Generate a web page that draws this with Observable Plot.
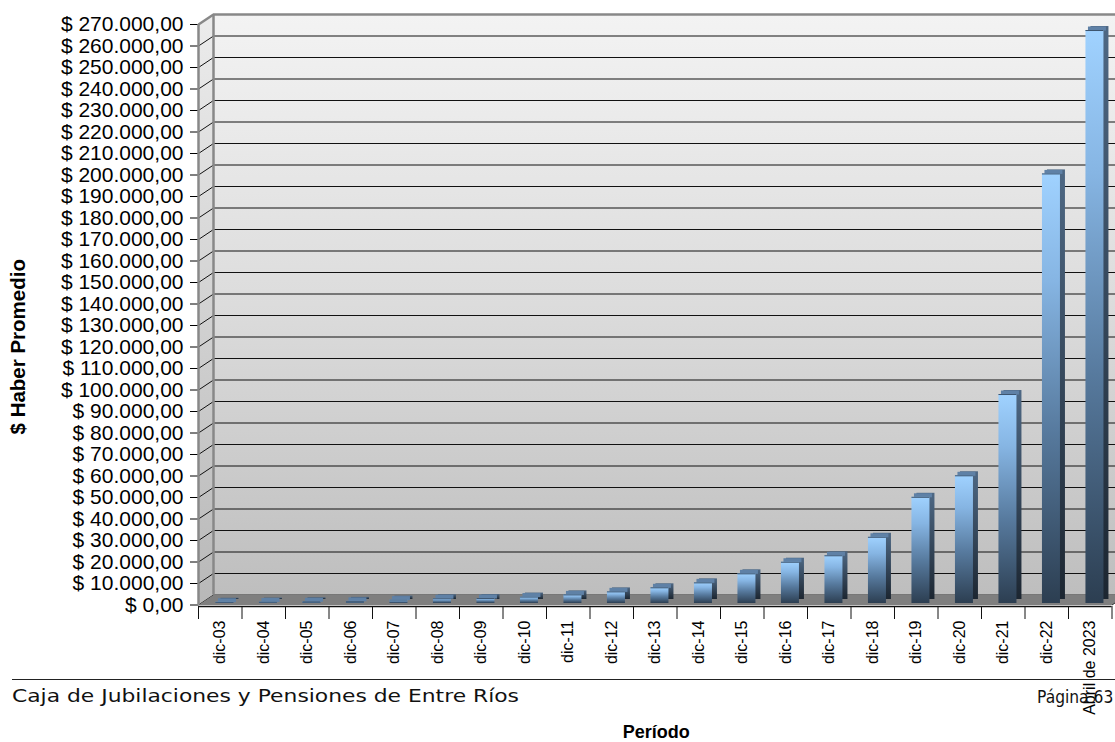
<!DOCTYPE html>
<html>
<head>
<meta charset="utf-8">
<script src="https://cdn.jsdelivr.net/npm/d3@7"></script>
<script src="https://cdn.jsdelivr.net/npm/@observablehq/plot@0.6"></script>
<style>
  html, body { margin: 0; padding: 0; background: #fff; overflow: hidden; width: 1115px; height: 742px; }
  #wrap { position: relative; width: 1115px; height: 742px; overflow: hidden; }
  #footline { position: absolute; left: 12px; top: 679px; width: 1103px; height: 0; border-top: 1px solid #222; }
  #foot1 { position: absolute; left: 12px; top: 685px; font-family: "DejaVu Sans", Verdana, sans-serif; font-size: 18.5px; color: #111; white-space: nowrap; transform: scaleX(1.18); transform-origin: left top; }
  #foot2 { position: absolute; left: 1037px; top: 687px; font-family: "DejaVu Sans", Verdana, sans-serif; font-size: 15.5px; color: #111; white-space: nowrap; transform: scaleY(1.15); transform-origin: left top; }
</style>
</head>
<body>
<div id="wrap">
  <div id="chart"></div>
  <div id="footline"></div>
  <div id="foot1">Caja de Jubilaciones y Pensiones de Entre Ríos</div>
  <div id="foot2">Página 63</div>
</div>
<script>
// ---- data ----
const periods = ["dic-03","dic-04","dic-05","dic-06","dic-07","dic-08","dic-09","dic-10","dic-11","dic-12","dic-13","dic-14","dic-15","dic-16","dic-17","dic-18","dic-19","dic-20","dic-21","dic-22","Abril de 2023"];
const haberPromedio = [600, 700, 800, 1000, 1600, 2200, 2300, 3000, 4000, 5400, 7300, 9600, 13800, 19200, 22200, 30800, 49400, 59400, 97200, 199800, 266500];
const yTicks = d3.range(0, 270001, 10000);
const yTitle = "$ Haber Promedio";
const xTitle = "Período";

// ---- layout constants ----
const W = 1115, H = 742;
const mL = 198, mR = 3.5, mT = 24, mB = 137.5;
const yMax = 270000;
const pxPerX = (W - mL - mR) / periods.length;
const pxPerY = (H - mT - mB) / yMax;
const DEPTH_X = 15, DEPTH_Y = 10;            // 3D wall depth in px
const UX = DEPTH_X / pxPerX, UV = DEPTH_Y / pxPerY;
const BW = 18 / pxPerX;                       // bar front width
const BDX = 4.7, BDY = -1.5;                  // bar placement inside floor
const SDX = 5, SDY = -4;                      // bar depth

const loc = d3.formatLocale({decimal: ",", thousands: ".", grouping: [3], currency: ["$ ", ""]});
const fmt = loc.format("$,.2f");

const rows = periods.map((p, i) => ({p, i, v: haberPromedio[i]}));
const bounds = d3.range(periods.length + 1).map(i => i - 0.5);
const x0 = -0.5, x1 = periods.length - 0.5;

const leftWall = [
  {x: x0, y: 0}, {x: x0, y: yMax}, {x: x0 + UX, y: yMax + UV}, {x: x0 + UX, y: UV}, {x: x0, y: 0}
];
const floor = [
  {x: x0, y: 0}, {x: x1, y: 0}, {x: x1 + UX, y: UV}, {x: x0 + UX, y: UV}, {x: x0, y: 0}
];

const chart = Plot.plot({
  width: W, height: H,
  marginLeft: mL, marginRight: mR, marginTop: mT, marginBottom: mB,
  style: {fontFamily: "'Liberation Sans', Arial, sans-serif", fontSize: "21px", color: "#000", background: "transparent"},
  x: {type: "linear", domain: [x0, x1], axis: null},
  y: {domain: [0, yMax], ticks: yTicks, tickFormat: fmt, tickSize: 8, tickPadding: 7, label: null},
  marks: [
    // back wall
    Plot.rect([0], {x1: x0, x2: x1, y1: 0, y2: yMax, dx: DEPTH_X, dy: -DEPTH_Y, fill: "url(#wallGrad)"}),
    Plot.ruleY(yTicks, {x1: x0, x2: x1, dx: DEPTH_X, dy: -DEPTH_Y, stroke: "#111", strokeWidth: 1}),
    Plot.ruleY([yMax], {x1: x0, x2: x1 + 1, dx: DEPTH_X, dy: -DEPTH_Y, stroke: "#888", strokeWidth: 2.5}),
    // left wall
    Plot.line(leftWall, {x: "x", y: "y", fill: "url(#leftGrad)", stroke: "none"}),
    Plot.link(yTicks, {x1: x0, x2: x0 + UX, y1: d => d, y2: d => d + UV, stroke: "#111", strokeWidth: 1}),
    Plot.ruleX([x0], {y1: 0, y2: yMax, dx: DEPTH_X, dy: -DEPTH_Y, stroke: "#888", strokeWidth: 2.5}),
    Plot.ruleX([x0], {y1: 0, y2: yMax, stroke: "#888", strokeWidth: 2.5}),
    Plot.link([0], {x1: x0, x2: x0 + UX, y1: yMax, y2: yMax + UV, stroke: "#888", strokeWidth: 2.5}),
    // floor
    Plot.line(floor, {x: "x", y: "y", fill: "#7f7f7f", stroke: "none"}),
    Plot.link([0], {x1: x1, x2: x1 + UX, y1: 0, y2: UV, stroke: "#333", strokeWidth: 1}),
    Plot.ruleY([0], {x1: x0, x2: x1, dy: 1.5, stroke: "#111", strokeWidth: 1.5}),
    Plot.ruleX(bounds, {y1: 0, y2: -13 / pxPerY, dy: 1.5, stroke: "#111", strokeWidth: 1}),
    // bars: side/back
    Plot.rectY(rows, {x1: d => d.i - BW / 2, x2: d => d.i + BW / 2, y1: 0, y2: "v", dx: BDX + SDX, dy: BDY + SDY, fill: "url(#sideGrad)"}),
    // bars: top cap
    Plot.ruleY(rows, {y: "v", x1: d => d.i - BW / 2, x2: d => d.i + BW / 2, dx: BDX + SDX / 2, dy: BDY + SDY / 2, stroke: "#5f81a6", strokeWidth: 4}),
    // bars: front face
    Plot.rectY(rows, {x1: d => d.i - BW / 2, x2: d => d.i + BW / 2, y1: 0, y2: "v", dx: BDX, dy: BDY, fill: "url(#barGrad)"}),
    Plot.ruleY(rows, {y: "v", x1: d => d.i - BW / 2, x2: d => d.i + BW / 2, dx: BDX, dy: BDY, stroke: "#3b536d", strokeWidth: 1}),
    // x labels
    Plot.text(rows, {x: "i", y: 0, text: "p", rotate: -90, textAnchor: "end", dy: 15.5, fontSize: 16, fill: "#000"}),
    // titles
    Plot.text([yTitle], {frameAnchor: "left", textAnchor: "middle", dx: -180, dy: 32, rotate: -90, fontWeight: "bold", fontSize: 20.5, fill: "#000"}),
    Plot.text([xTitle], {frameAnchor: "bottom", lineAnchor: "middle", dy: 127.5, dx: 1, fontWeight: "bold", fontSize: 18, fill: "#000"})
  ]
});

document.getElementById("chart").appendChild(chart);
const svg = d3.select(chart.tagName.toLowerCase() === "svg" ? chart : chart.querySelector("svg"));
const defs = svg.insert("defs", ":first-child");
function grad(id, stops) {
  const g = defs.append("linearGradient").attr("id", id).attr("x1", 0).attr("y1", 0).attr("x2", 0).attr("y2", 1);
  stops.forEach(([o, c]) => g.append("stop").attr("offset", o).attr("stop-color", c));
}
grad("wallGrad", [[0, "#f3f3f3"], [0.5, "#dcdcdc"], [1, "#bebebe"]]);
grad("leftGrad", [[0, "#ececec"], [1, "#b8b8b8"]]);
grad("barGrad", [[0, "#a0d2ff"], [0.25, "#86b5e3"], [0.6, "#577a9e"], [1, "#2c3e51"]]);
grad("sideGrad", [[0, "#4e6884"], [1, "#1c2631"]]);
</script>
</body>
</html>
